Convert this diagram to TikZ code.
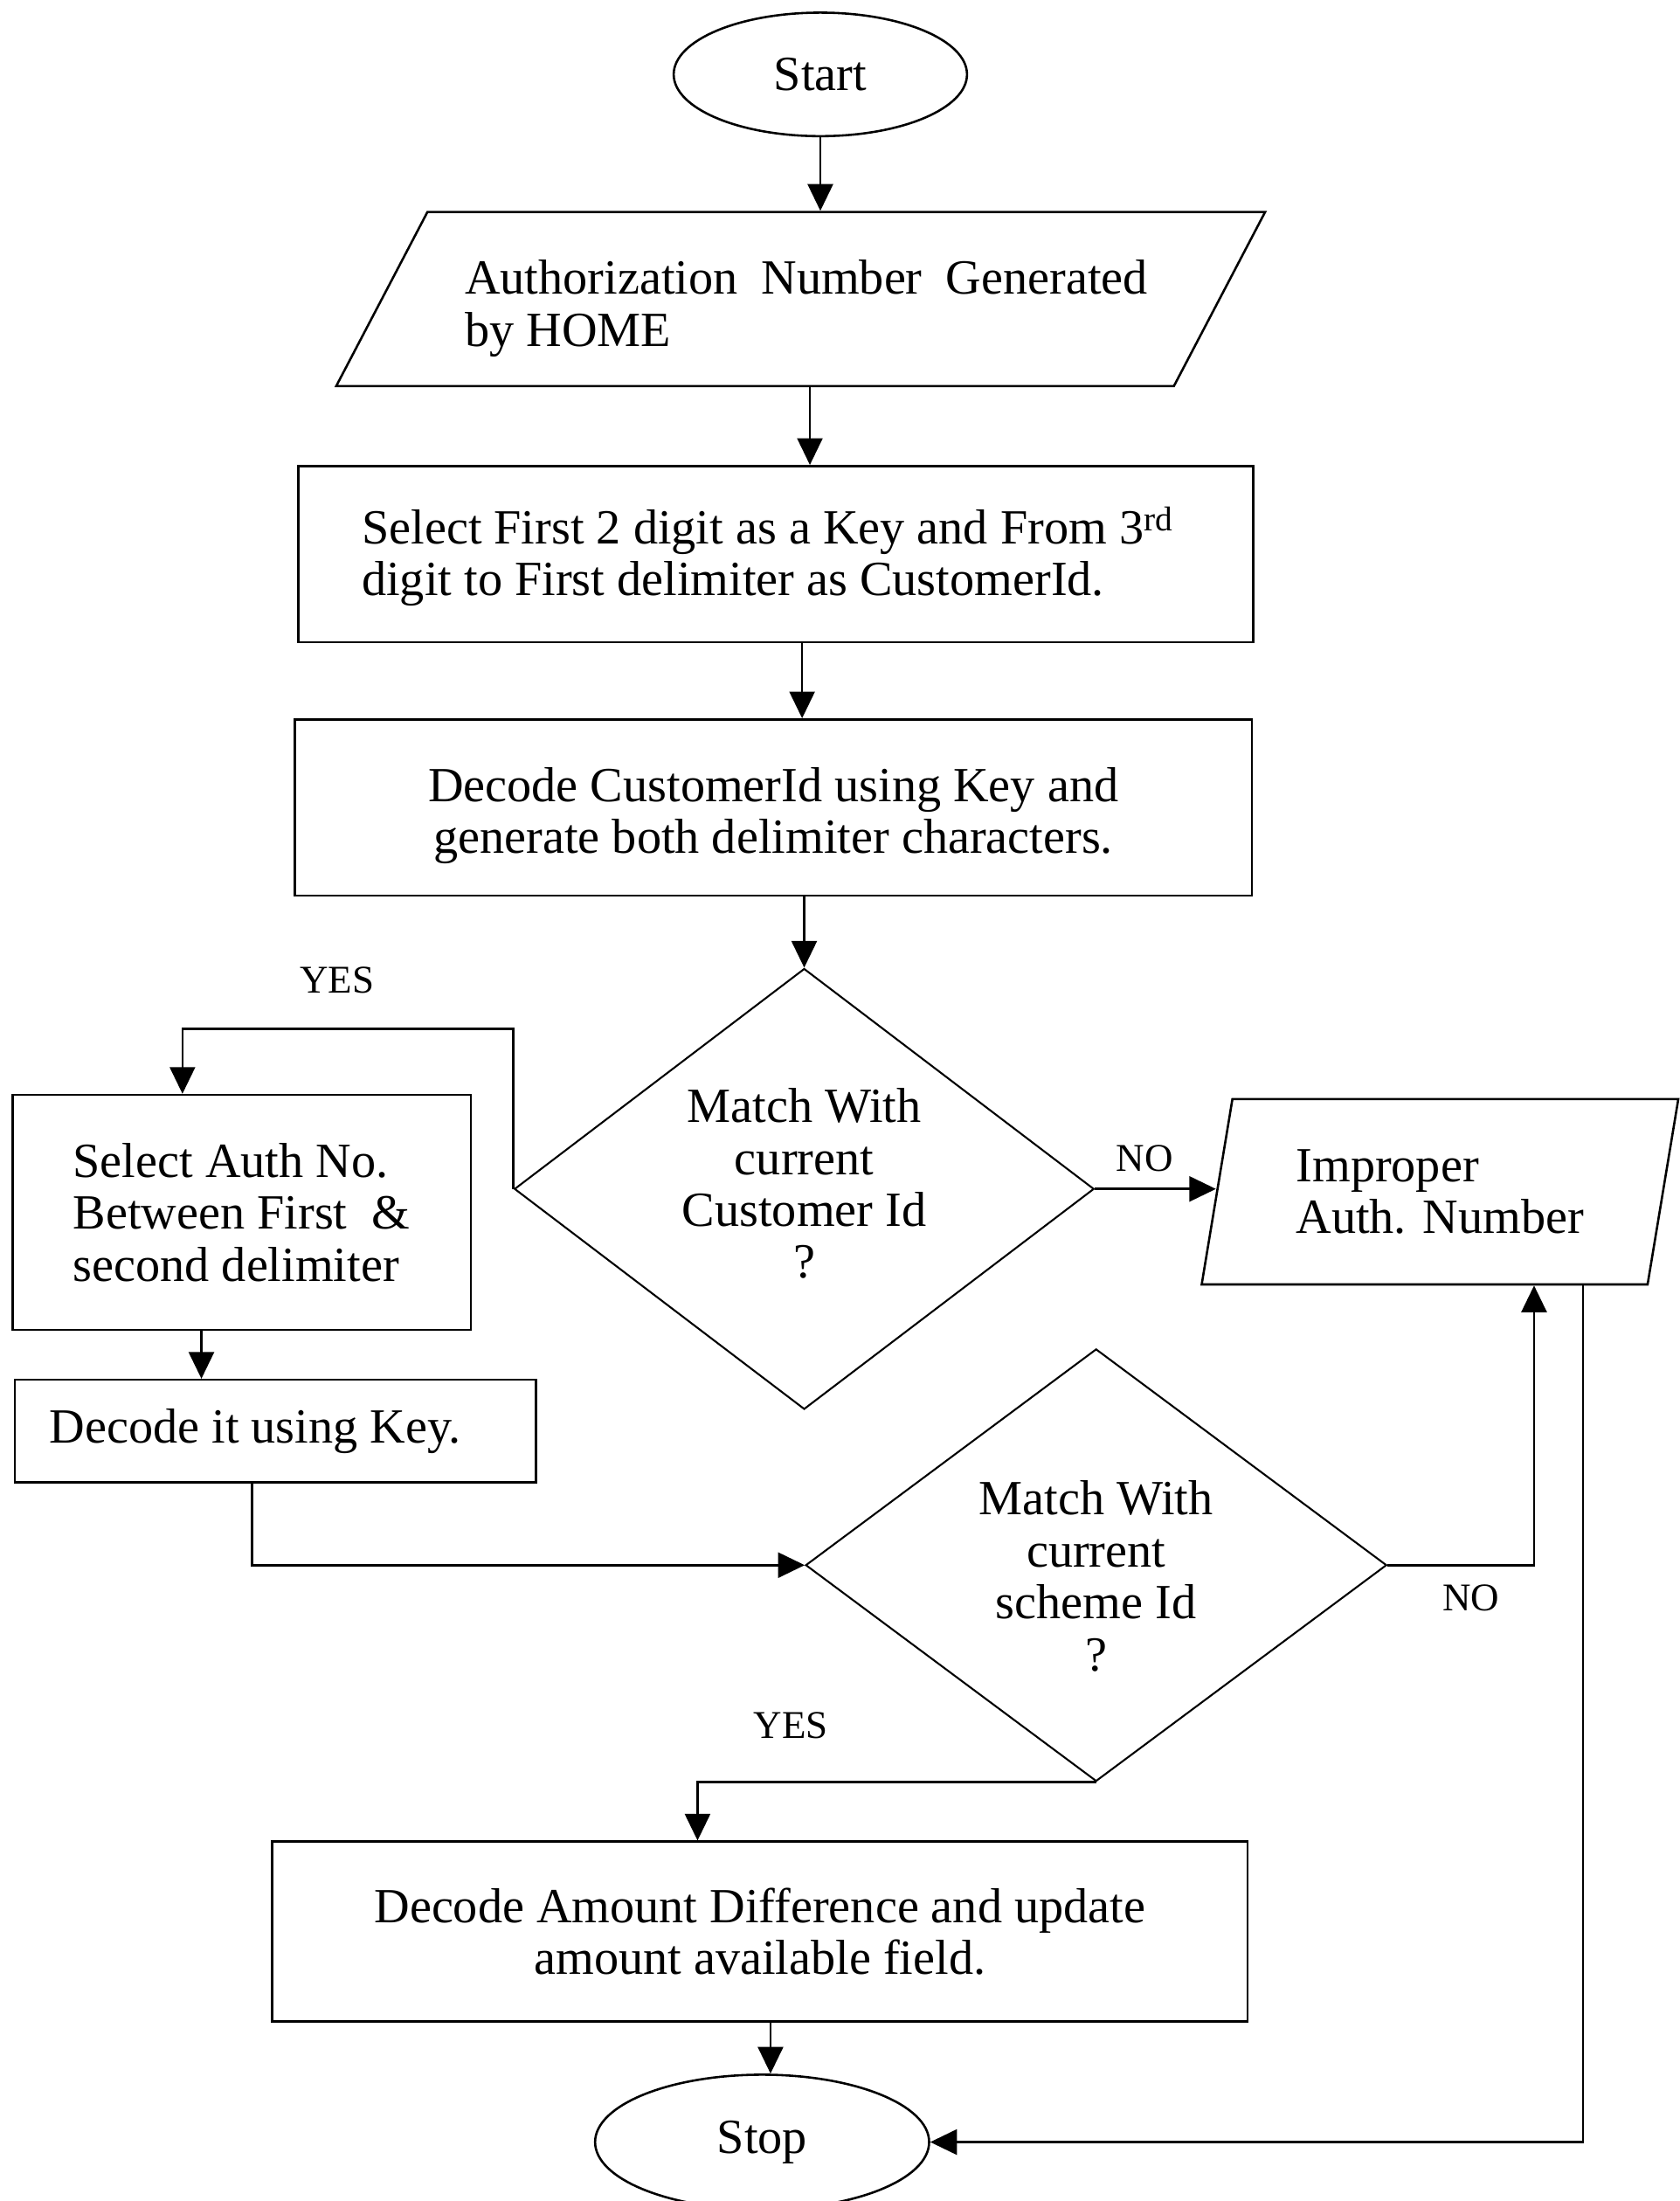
\documentclass[tikz,border=0pt]{standalone}
\usepackage{fontspec}
\setmainfont{Liberation Serif}
\usetikzlibrary{shapes.geometric,arrows.meta}
\begin{document}
\begin{tikzpicture}[x=1pt,y=-1pt,
  every node/.style={font=\fontsize{35}{37}\selectfont, inner sep=0pt},
  arr/.style={line width=1.6pt, -{Triangle[length=19pt,width=18pt]}},
  proc/.style={draw, line width=1.6pt, rectangle},
  io/.style={draw, line width=1.6pt, trapezium, trapezium stretches=true},
  decision/.style={draw, line width=1.3pt, diamond, aspect=1.3, align=center},
  terminal/.style={draw, line width=1.6pt, ellipse},
  lbl/.style={font=\fontsize{28}{30}\selectfont}
]
\useasboundingbox (0,0) rectangle (1197,1568);

% main column
\node[terminal, minimum width=209pt, minimum height=88pt] (start) at (584.5,53) {Start};
\node[io, trapezium left angle=53.8, trapezium right angle=126.2,
      minimum width=665pt, minimum height=124pt, align=left] (gen) at (570.5,213)
      {\hspace{8pt}\rule{0pt}{38pt}\spaceskip=.48em\relax Authorization Number Generated\\\hspace{8pt}by HOME};
\node[proc, minimum width=680.4pt, minimum height=125.5pt, align=left]
      (key) at (552.8,394.75)
      {\rule{0pt}{30pt}Select First 2 digit as a Key and From 3\textsuperscript{rd}\rule{12pt}{0pt}\\digit to First delimiter as CustomerId.};
\node[proc, minimum width=682pt, minimum height=125.5pt, align=center] (dec1) at (551,575.25)
      {\rule{0pt}{36pt}Decode CustomerId using Key and\\generate both delimiter characters.};
\node[decision, minimum width=413pt, minimum height=314pt] (m1) at (573,847)
      {Match With\\current\\Customer Id\\?\rule[-8pt]{0pt}{8pt}};

% left branch
\node[proc, minimum width=326.5pt, minimum height=167.5pt, align=left] (sel) at (172.15,863.75)
      {Select Auth No.\\Between First\ \ \&\\second delimiter};
\node[proc, minimum width=371.3pt, minimum height=73pt, align=left]
      (dkey) at (196.35,1019.5) {Decode it using Key.\hspace{29pt}};

% right branch
\node[io, trapezium left angle=75.9, trapezium right angle=104.1,
      minimum width=340pt, minimum height=132pt, align=left] (bad) at (1026,849)
      {Improper\\Auth. Number};
\node[decision, minimum width=414pt, minimum height=308pt] (m2) at (781,1115)
      {\rule{0pt}{40pt}Match With\\current\\scheme Id\\?};

% final steps
\node[proc, minimum width=695.2pt, minimum height=128pt, align=center] (upd) at (541.4,1376)
      {Decode Amount Difference and update\\amount available field.};
\node[terminal, minimum width=238pt, minimum height=96pt] (stop) at (543,1526) {Stop};

% branch labels
\node[lbl] (yes1) at (240,698) {YES};
\node[lbl] (no1) at (815.5,825) {NO};
\node[lbl] (no2) at (1048,1138.5) {NO};
\node[lbl] (yes2) at (563.5,1229.5) {YES};

\coordinate (yc) at (130,733);

% connectors
\draw[arr] (start.south) -- (start.south |- gen.north);
\draw[arr] ([xshift=6.5pt]gen.south) -- ([xshift=6.5pt]gen.south |- key.north);
\draw[arr] ([xshift=18.7pt]key.south) -- ([xshift=18.7pt]key.south |- dec1.north);
\draw[arr] (m1.north |- dec1.south) -- (m1.north);
\draw[arr] (m1.west) -- (m1.west |- yc) -| ([xshift=-42.15pt]sel.north);
\draw[arr] ([xshift=-28.65pt]sel.south) -- ([xshift=-28.65pt]sel.south |- dkey.north);
\draw[arr] ([xshift=-16.85pt]dkey.south) |- (m2.west);
\draw[arr] (m1.east) -- (m1.east -| bad.west);
\draw[arr] (m2.east) -| ([xshift=67pt]bad.south);
\draw[arr] ([xshift=102pt]bad.south) |- (stop.east);
\draw[arr] (m2.south) -| ([xshift=-44.4pt]upd.north);
\draw[arr] ([xshift=6pt]stop.north |- upd.south) -- ([xshift=6pt]stop.north);
\end{tikzpicture}
\end{document}
